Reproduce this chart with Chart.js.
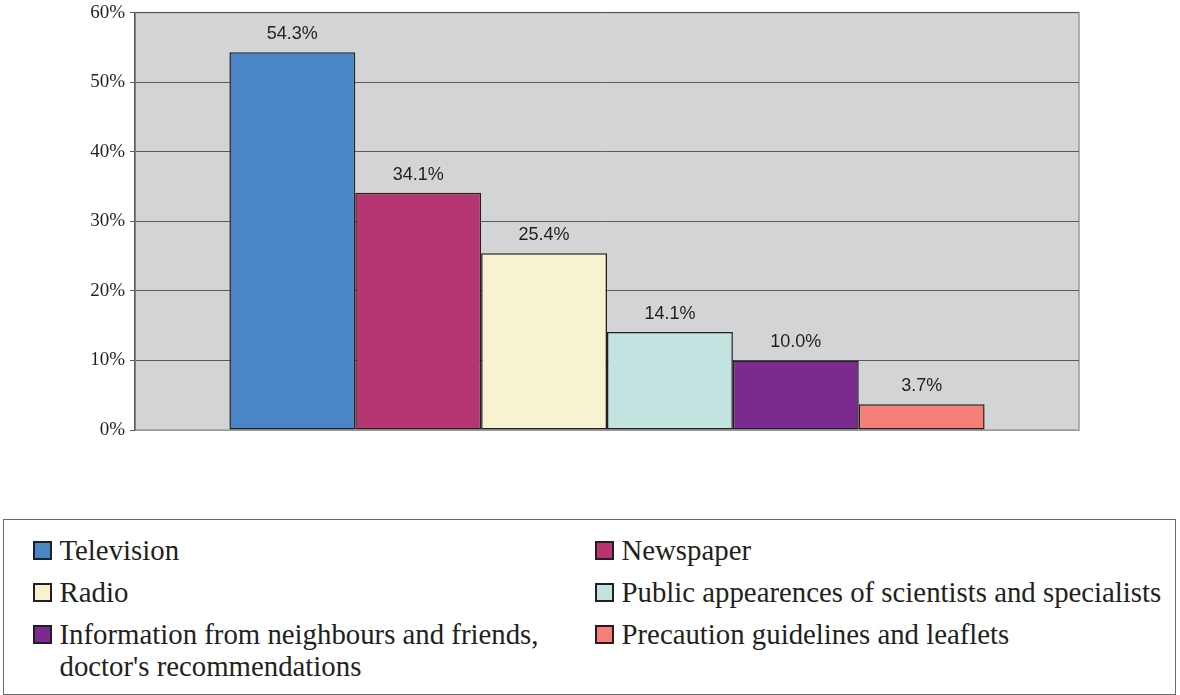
<!DOCTYPE html>
<html>
<head>
<meta charset="utf-8">
<script src="https://cdn.jsdelivr.net/npm/chart.js@4.4.1/dist/chart.umd.min.js"></script>
<style>
  html, body { margin: 0; padding: 0; background: #fff; }
  #wrap { position: relative; width: 1180px; height: 695px; overflow: hidden; }
  #chartBox { position: absolute; left: 0; top: 0; width: 1180px; height: 445px; }
  #legend {
    position: absolute; left: 3px; top: 519px; width: 1171px; height: 170px;
    border: 1.5px solid #6b6b6b; box-sizing: content-box;
    font-family: 'Liberation Serif', 'Times New Roman', serif; font-size: 28.8px; color: #231f20;
    display: grid; grid-template-columns: 562px 609px; grid-auto-rows: min-content;
    padding: 4px 0 0 0; margin: 0;
  }
  .item { position: relative; padding-left: 27px; line-height: 32px; margin-top: 10px; margin-left: 28.5px; }
  .item:nth-child(even) { white-space: nowrap; }
  .item .sw {
    position: absolute; left: 0; top: 7px; width: 15px; height: 15px;
    border: 2px solid #231f20;
  }
</style>
</head>
<body>
<div id="wrap">
  <div id="chartBox"><canvas id="chart"></canvas></div>
  <div id="legend"></div>
</div>
<script>
// source of information - share of respondents
const seriesLabels = [
  'Television',
  'Newspaper',
  'Radio',
  'Public appearences of scientists and specialists',
  "Information from neighbours and friends, doctor's recommendations",
  'Precaution guidelines and leaflets'
];
const seriesValues = [54.3, 34.1, 25.4, 14.1, 10.0, 3.7];
const seriesColors = ['#4a86c6', '#b53672', '#f7f2cf', '#c3e3e1', '#7b2a8d', '#f47f77'];
const yTicks = [0, 10, 20, 30, 40, 50, 60];

// plot background + frame
const plotFrame = {
  id: 'plotFrame',
  beforeDraw(chart) {
    const { ctx, chartArea: a } = chart;
    ctx.save();
    ctx.fillStyle = '#d3d4d6';
    ctx.fillRect(a.left, a.top, a.right - a.left, a.bottom - a.top);
    ctx.strokeStyle = '#9a9a9a';
    ctx.lineWidth = 1.5;
    ctx.strokeRect(a.left, a.top, a.right - a.left, a.bottom - a.top);
    ctx.restore();
  }
};

// value labels above the bars
const valueLabels = {
  id: 'valueLabels',
  afterDatasetsDraw(chart) {
    const ctx = chart.ctx;
    ctx.save();
    ctx.font = '18px "Liberation Sans", Arial, sans-serif';
    ctx.fillStyle = '#231f20';
    ctx.textAlign = 'center';
    ctx.textBaseline = 'bottom';
    chart.data.datasets.forEach((ds, i) => {
      const bar = chart.getDatasetMeta(i).data[0];
      ctx.fillText(ds.data[0].toFixed(1) + '%', bar.x, bar.y - 9);
    });
    ctx.restore();
  }
};

new Chart(document.getElementById('chart'), {
  type: 'bar',
  data: {
    labels: [''],
    datasets: seriesLabels.map((lab, i) => ({
      label: lab,
      data: [seriesValues[i]],
      backgroundColor: seriesColors[i],
      borderColor: '#231f20',
      borderWidth: 1.5,
      borderSkipped: false,
      categoryPercentage: 0.8,
      barPercentage: 1.0
    }))
  },
  options: {
    responsive: true,
    maintainAspectRatio: false,
    animation: false,
    layout: { padding: { left: 0, right: 101, top: 12, bottom: 15 } },
    plugins: { legend: { display: false }, tooltip: { enabled: false } },
    scales: {
      x: { display: false },
      y: {
        min: 0, max: 60,
        afterFit(scale) { scale.width = 135; },
        afterBuildTicks(scale) { scale.ticks = yTicks.map(v => ({ value: v })); },
        grid: {
          color: ctx => ctx.tick && ctx.tick.value === 0 ? '#9a9a9a' : '#5a5a5a',
          lineWidth: 1,
          drawTicks: true,
          tickLength: 5,
          tickColor: '#5a5a5a'
        },
        border: { color: '#5a5a5a', width: 1.5 },
        ticks: {
          color: '#231f20',
          padding: 5,
          font: { family: "'Liberation Serif', 'Times New Roman', serif", size: 19, lineHeight: 0.8 },
          callback: v => v + '%'
        }
      }
    }
  },
  plugins: [plotFrame, valueLabels]
});

// html legend, two columns
const legendEl = document.getElementById('legend');
seriesLabels.forEach((lab, i) => {
  const it = document.createElement('div');
  it.className = 'item';
  const sw = document.createElement('span');
  sw.className = 'sw';
  sw.style.background = seriesColors[i];
  it.appendChild(sw);
  it.appendChild(document.createTextNode(lab));
  legendEl.appendChild(it);
});
</script>
</body>
</html>
